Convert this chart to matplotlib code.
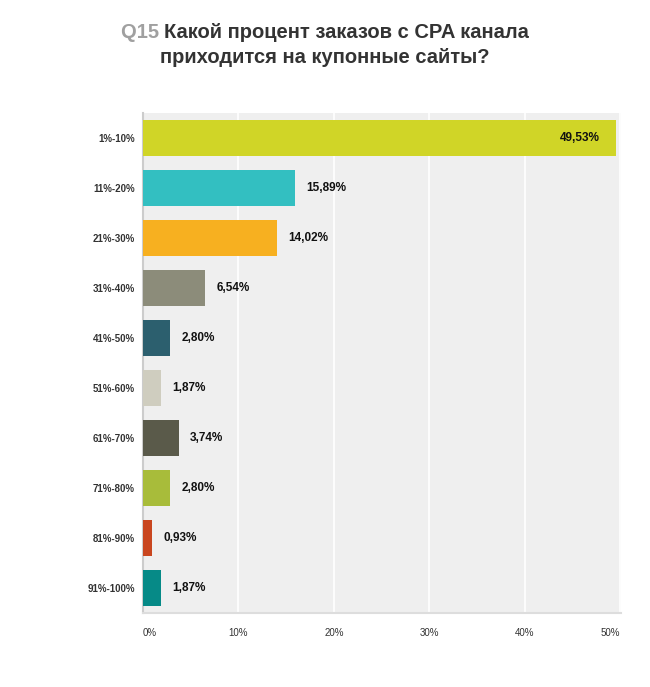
import matplotlib.pyplot as plt

categories = ['1%-10%', '11%-20%', '21%-30%', '31%-40%', '41%-50%',
              '51%-60%', '61%-70%', '71%-80%', '81%-90%', '91%-100%']
values = [49.53, 15.89, 14.02, 6.54, 2.80, 1.87, 3.74, 2.80, 0.93, 1.87]
labels = ['49,53%', '15,89%', '14,02%', '6,54%', '2,80%',
          '1,87%', '3,74%', '2,80%', '0,93%', '1,87%']
colors = ['#d0d527', '#33bfc1', '#f7b020', '#8c8c7a', '#2c5f6e',
          '#cfcdbf', '#5a5a4a', '#a8bc3a', '#c9461f', '#068a87']
xticks = [0, 10, 20, 30, 40, 50]

plt.rcParams['font.family'] = ['Liberation Sans', 'DejaVu Sans']

fig = plt.figure(figsize=(6.5, 6.87), dpi=100)
ax = fig.add_axes([0.22, 0.1077, 0.7354, 0.7278])
ax.set_facecolor('#efefef')

y = list(range(len(categories)))
ax.barh(y, values, height=0.72, color=colors, zorder=3)
ax.set_ylim(len(categories) - 0.5, -0.5)
ax.set_xlim(0, 50.1)

for i, (v, lab) in enumerate(zip(values, labels)):
    if v > 40:
        ax.text(v - 1.7, i, lab, ha='right', va='center', fontsize=8.5,
                fontweight='bold', color='#111111', zorder=4)
    else:
        ax.text(v + 1.2, i, lab, ha='left', va='center', fontsize=8.5,
                fontweight='bold', color='#111111', zorder=4)

ax.set_yticks(y)
ax.set_yticklabels(categories, fontsize=7, fontweight='bold', color='#333333')
ax.set_xticks(xticks)
tl = ax.set_xticklabels([f'{t}%' for t in xticks], fontsize=7, color='#333333')
tl[0].set_ha('left')
tl[-1].set_ha('right')
ax.tick_params(axis='both', length=0)
ax.tick_params(axis='y', pad=6)
ax.tick_params(axis='x', pad=11)
ax.grid(axis='x', color='white', linewidth=1.2, zorder=1)

for s in ['top', 'right']:
    ax.spines[s].set_visible(False)
ax.spines['left'].set_color('#cccccc')
ax.spines['left'].set_linewidth(1.5)
ax.spines['bottom'].set_color('#dddddd')
ax.spines['bottom'].set_linewidth(1.5)

# title: grey "Q15" followed by dark question, line centred as a whole
fs = 14.5
q = fig.text(0, 0.952, 'Q15 ', ha='left', va='center', fontsize=fs,
             fontweight='bold', color='#a0a0a0')
r = fig.text(0, 0.952, 'Какой процент заказов с CPA канала', ha='left',
             va='center', fontsize=fs, fontweight='bold', color='#333333')
fig.canvas.draw()
rend = fig.canvas.get_renderer()
wq = q.get_window_extent(rend).width / fig.bbox.width
wr = r.get_window_extent(rend).width / fig.bbox.width
x0 = 0.5 - (wq + wr) / 2
q.set_x(x0)
r.set_x(x0 + wq)
fig.text(0.5, 0.917, 'приходится на купонные сайты?', ha='center',
         va='center', fontsize=fs, fontweight='bold', color='#333333')

fig.savefig('out.png', dpi=100)
